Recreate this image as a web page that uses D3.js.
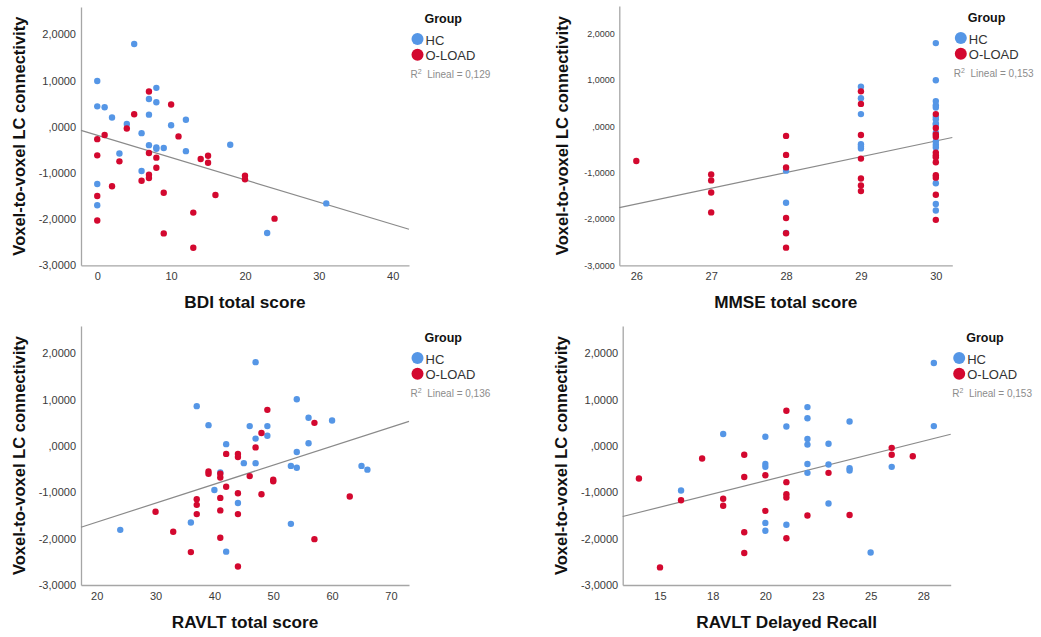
<!DOCTYPE html>
<html>
<head>
<meta charset="utf-8">
<script src="https://cdn.jsdelivr.net/npm/d3@7"></script>
<style>
body { margin: 0; background: #fff; }
text { font-family: Arial, "Liberation Sans", sans-serif; }
.axis path { stroke: #a6a6a6; stroke-width: 1.3px; }
.axis text { fill: #3a3a3a; }
</style>
</head>
<body>
<div id="chart"></div>
<script>
var w = 1041;
var h = 637;

// y axis (same for all four plots)
var yTicks = [-3, -2, -1, 0, 1, 2];
var yTickLabels = ["-3,0000", "-2,0000", "-1,0000", ",0000", "1,0000", "2,0000"];
var yRange = [-3, 2.59];

// BDI
var bdiHC = [[5,1.79],[0,0.99],[8,0.84],[7,0.60],[8,0.53],[0,0.44],[1,0.42],[7,0.26],[2,0.20],[12,0.15],[4,0.06],[10,0.03],[6,-0.14],[7,-0.40],[18,-0.39],[8,-0.45],[8,-0.48],[9,-0.46],[12,-0.53],[3,-0.58],[6,-0.96],[0,-1.24],[0,-1.70],[31,-1.66],[23,-2.30]];
var bdiLOAD = [[7,0.76],[10,0.48],[5,0.27],[4,-0.04],[1,-0.18],[11,-0.21],[0,-0.27],[0,-0.62],[7,-0.57],[8,-0.67],[15,-0.63],[14,-0.70],[15,-0.78],[3,-0.75],[8,-0.89],[7,-1.04],[7,-1.11],[20,-1.06],[20,-1.14],[6,-1.17],[2,-1.29],[0,-1.50],[9,-1.43],[16,-1.48],[13,-1.86],[0,-2.03],[24,-1.99],[9,-2.31],[13,-2.62]];
var bdiTicks = [0, 10, 20, 30, 40];
var bdiTickLabels = ["0", "10", "20", "30", "40"];
var bdiRange = [-2.2, 42.2];
var bdiFit = [-0.186, -0.0482];
var bdiR2 = "0,129";

// MMSE
var mmseHC = [[28,-0.96],[28,-1.65],[28,-2.30],[29,0.85],[29,0.60],[29,0.26],[29,-0.39],[29,-0.44],[29,-0.48],[30,1.79],[30,0.99],[30,0.54],[30,0.45],[30,0.40],[30,0.20],[30,0.15],[30,0.06],[30,0.03],[30,-0.14],[30,-0.33],[30,-0.40],[30,-0.46],[30,-1.23],[30,-1.68],[30,-1.82]];
var mmseLOAD = [[26,-0.75],[27,-1.04],[27,-1.17],[27,-1.43],[27,-1.86],[28,-0.21],[28,-0.62],[28,-0.89],[28,-1.98],[28,-2.31],[28,-2.62],[29,0.75],[29,0.48],[29,-0.19],[29,-0.70],[29,-1.13],[29,-1.28],[29,-1.40],[30,0.26],[30,-0.04],[30,-0.18],[30,-0.23],[30,-0.57],[30,-0.63],[30,-0.67],[30,-0.78],[30,-1.06],[30,-1.11],[30,-1.48],[30,-2.02]];
var mmseTicks = [26, 27, 28, 29, 30];
var mmseTickLabels = ["26", "27", "28", "29", "30"];
var mmseRange = [25.773, 30.22];
var mmseFit = [-10.52, 0.34];
var mmseR2 = "0,153";

// RAVLT total
var ravltHC = [[47,1.81],[54,1.01],[37,0.86],[56,0.61],[60,0.55],[39,0.45],[46,0.43],[49,0.43],[47,0.16],[49,0.22],[42,0.04],[56,0.06],[54,-0.13],[45,-0.37],[47,-0.37],[53,-0.43],[54,-0.47],[65,-0.43],[66,-0.51],[41,-0.57],[40,-0.95],[44,-1.23],[36,-1.65],[53,-1.68],[24,-1.81],[42,-2.28]];
var ravltLOAD = [[49,0.78],[57,0.50],[48,0.28],[47,-0.03],[42,-0.17],[44,-0.17],[44,-0.24],[39,-0.55],[39,-0.60],[41,-0.60],[41,-0.68],[46,-0.65],[50,-0.73],[50,-0.76],[42,-0.88],[44,-1.02],[48,-1.04],[41,-1.12],[63,-1.09],[37,-1.15],[37,-1.27],[37,-1.47],[44,-1.47],[30,-1.42],[41,-1.39],[33,-1.85],[41,-1.98],[57,-2.01],[36,-2.29],[44,-2.60]];
var ravltTicks = [20, 30, 40, 50, 60, 70];
var ravltTickLabels = ["20", "30", "40", "50", "60", "70"];
var ravltRange = [17.33, 73.07];
var ravltFit = [-2.464, 0.041];
var ravltR2 = "0,136";

// RAVLT delayed recall
var delayHC = [[16,-0.96],[18,0.26],[20,0.20],[20,-0.39],[20,-0.45],[20,-1.66],[20,-1.83],[21,0.42],[21,-1.70],[22,0.84],[22,0.60],[22,0.15],[22,0.03],[22,-0.39],[22,-0.58],[23,0.05],[23,-0.40],[23,-1.24],[24,0.53],[24,-0.48],[24,-0.53],[25,-2.30],[26,-0.45],[28,1.79],[28,0.43]];
var delayLOAD = [[14,-0.70],[15,-2.62],[16,-1.17],[17,-0.27],[18,-1.14],[18,-1.29],[19,-0.19],[19,-0.67],[19,-1.86],[19,-2.31],[20,-0.63],[20,-1.40],[21,0.76],[21,-0.78],[21,-1.04],[21,-1.11],[21,-1.99],[22,-1.50],[23,-0.58],[24,-1.49],[26,-0.04],[26,-0.19],[27,-0.22]];
var delayTicks = [15, 17.5, 20, 22.5, 25, 27.5];
var delayTickLabels = ["15", "18", "20", "23", "25", "28"];
var delayRange = [13.23, 28.8];
var delayFit = [-3.03, 0.114];
var delayR2 = "0,153";

var groups = ["HC", "O-LOAD"];
var colors = ["#5596e6", "#d3082f"];

var panels = [
    {hc: bdiHC, load: bdiLOAD, ticks: bdiTicks, labels: bdiTickLabels, xr: bdiRange, fit: bdiFit, r2: bdiR2,
     title: "BDI total score", left: 81, right: 409, top: 7, bottom: 265.3, yFont: 11, yPad: 5, yTitle: 56},
    {hc: mmseHC, load: mmseLOAD, ticks: mmseTicks, labels: mmseTickLabels, xr: mmseRange, fit: mmseFit, r2: mmseR2,
     title: "MMSE total score", left: 619.3, right: 952.3, top: 6, bottom: 265.3, yFont: 9, yPad: 4.5, yTitle: 51},
    {hc: ravltHC, load: ravltLOAD, ticks: ravltTicks, labels: ravltTickLabels, xr: ravltRange, fit: ravltFit, r2: ravltR2,
     title: "RAVLT total score", left: 81, right: 409, top: 326, bottom: 585, yFont: 11, yPad: 5, yTitle: 56},
    {hc: delayHC, load: delayLOAD, ticks: delayTicks, labels: delayTickLabels, xr: delayRange, fit: delayFit, r2: delayR2,
     title: "RAVLT Delayed Recall", left: 622.7, right: 950.7, top: 326, bottom: 585, yFont: 11, yPad: 4.5, yTitle: 56}
];

var svg = d3.select("#chart")
            .append("svg")
            .attr("width", w)
            .attr("height", h);

panels.forEach(function(p) {
    var g = svg.append("g");

    var xScale = d3.scaleLinear().domain(p.xr).range([p.left, p.right]);
    var yScale = d3.scaleLinear().domain(yRange).range([p.bottom, p.top]);

    //X axis
    var xAxis = d3.axisBottom(xScale)
                  .tickValues(p.ticks)
                  .tickFormat(function(d, i) { return p.labels[i]; })
                  .tickSize(0)
                  .tickPadding(7);
    var gx = g.append("g")
        .attr("class", "x axis")
        .attr("transform", "translate(0," + p.bottom + ")")
        .call(xAxis);
    gx.selectAll("text").style("font-size", "11px");

    //Y axis
    var yAxis = d3.axisLeft(yScale)
                  .tickValues(yTicks)
                  .tickFormat(function(d, i) { return yTickLabels[i]; })
                  .tickSize(0)
                  .tickPadding(p.yPad);
    var gy = g.append("g")
        .attr("class", "y axis")
        .attr("transform", "translate(" + p.left + ",0)")
        .call(yAxis);
    gy.selectAll("text").style("font-size", p.yFont + "px");

    // regression line
    var line = d3.line()
        .x(function(d) { return xScale(d); })
        .y(function(d) { return yScale(p.fit[0] + p.fit[1] * d); });
    g.append("path")
        .datum(p.xr)
        .attr("d", line)
        .attr("fill", "none")
        .attr("stroke", "#8a8a8a")
        .attr("stroke-width", 1.2);

    // points, HC first then O-LOAD on top
    [p.hc, p.load].forEach(function(set, k) {
        g.append("g").selectAll("circle")
            .data(set)
            .enter()
            .append("circle")
            .attr("cx", function(d) { return xScale(d[0]); })
            .attr("cy", function(d) { return yScale(d[1]); })
            .attr("r", 3.2)
            .attr("fill", colors[k]);
    });

    // axis titles
    g.append("text")
        .attr("x", (p.left + p.right) / 2)
        .attr("y", p.bottom + 43)
        .attr("text-anchor", "middle")
        .style("font-size", "17.2px")
        .style("font-weight", "bold")
        .attr("fill", "#111")
        .text(p.title);

    g.append("text")
        .attr("transform", "translate(" + (p.left - p.yTitle) + "," + ((p.top + p.bottom) / 2) + ") rotate(-90)")
        .attr("text-anchor", "middle")
        .style("font-size", "16.5px")
        .style("font-weight", "bold")
        .attr("fill", "#111")
        .text("Voxel-to-voxel LC connectivity");

    // legend
    var lx = p.right + 1.5;
    g.append("text")
        .attr("x", lx + 14)
        .attr("y", p.top + 16)
        .style("font-size", "12.5px")
        .style("font-weight", "bold")
        .attr("fill", "#111")
        .text("Group");

    groups.forEach(function(name, k) {
        g.append("circle")
            .attr("cx", lx + 7)
            .attr("cy", p.top + 32 + k * 15.7)
            .attr("r", 6)
            .attr("fill", colors[k]);
        g.append("text")
            .attr("x", lx + 15)
            .attr("y", p.top + 37.5 + k * 15.7)
            .style("font-size", "13px")
            .attr("fill", "#333")
            .text(name);
    });

    var r2 = g.append("text")
        .attr("x", lx)
        .attr("y", p.top + 71)
        .style("font-size", "10px")
        .attr("fill", "#8c8c8c");
    r2.append("tspan").text("R");
    r2.append("tspan").attr("dy", -4).style("font-size", "7px").text("2");
    r2.append("tspan").attr("dy", 4).text("  Lineal = " + p.r2).attr("xml:space", "preserve");
});
</script>
</body>
</html>
